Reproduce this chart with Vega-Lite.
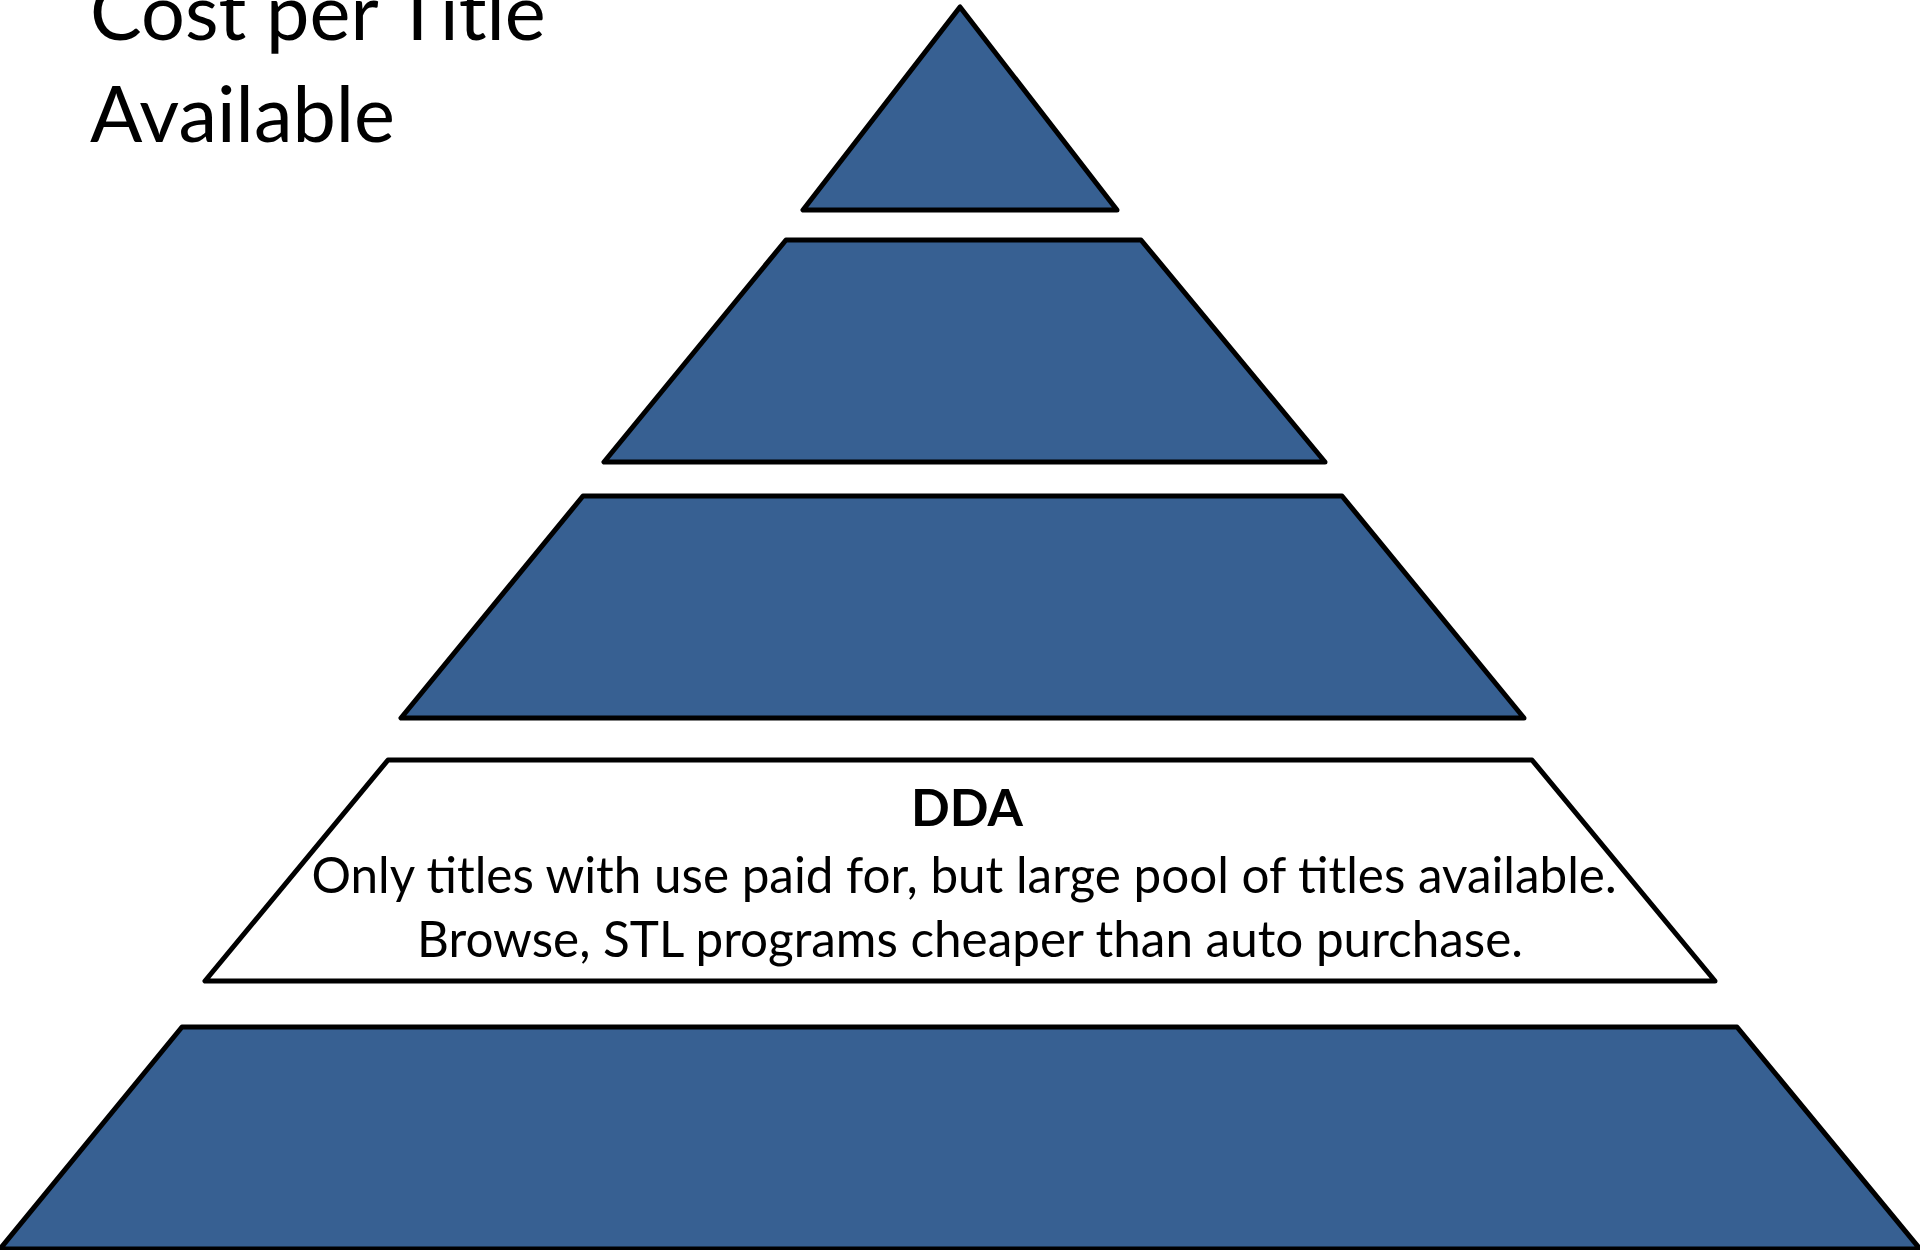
{
  "$schema": "https://vega.github.io/schema/vega-lite/v6.json",
  "autosize": {"type": "none"},
  "width": 1920,
  "height": 1250,
  "padding": 0,
  "background": "white",
  "config": {"view": {"stroke": null}},
  "layer": [
    {
      "data": {"values": [
        {"tier": 1, "kind": "other", "y": 7, "xl": 960, "xr": 960},
        {"tier": 1, "kind": "other", "y": 210, "xl": 803, "xr": 1117},
        {"tier": 2, "kind": "other", "y": 240, "xl": 786, "xr": 1141},
        {"tier": 2, "kind": "other", "y": 462, "xl": 604, "xr": 1325},
        {"tier": 3, "kind": "other", "y": 496, "xl": 583, "xr": 1342},
        {"tier": 3, "kind": "other", "y": 718, "xl": 401, "xr": 1524},
        {"tier": 4, "kind": "DDA", "y": 760, "xl": 388, "xr": 1532},
        {"tier": 4, "kind": "DDA", "y": 981, "xl": 205, "xr": 1715},
        {"tier": 5, "kind": "other", "y": 1027, "xl": 182, "xr": 1737},
        {"tier": 5, "kind": "other", "y": 1249, "xl": 0, "xr": 1920}
      ]},
      "mark": {"type": "area", "orient": "horizontal", "stroke": "black", "strokeWidth": 5, "strokeJoin": "round", "fillOpacity": 1, "clip": false},
      "encoding": {
        "y": {"field": "y", "type": "quantitative", "scale": {"domain": [0, 1250], "reverse": true, "zero": false, "nice": false}, "axis": null},
        "x": {"field": "xl", "type": "quantitative", "scale": {"domain": [0, 1920], "zero": false, "nice": false}, "axis": null},
        "x2": {"field": "xr"},
        "detail": {"field": "tier", "type": "nominal"},
        "fill": {"field": "kind", "type": "nominal", "scale": {"domain": ["other", "DDA"], "range": ["#376092", "#FFFFFF"]}, "legend": null}
      }
    },
    {
      "data": {"values": [
        {"label": "Cost per Title", "x": 90, "y": 40},
        {"label": "Available", "x": 90, "y": 142}
      ]},
      "mark": {"type": "text", "align": "left", "baseline": "alphabetic", "font": "Lato", "fontSize": 77.5, "color": "black"},
      "encoding": {
        "x": {"field": "x", "type": "quantitative"},
        "y": {"field": "y", "type": "quantitative"},
        "text": {"field": "label"}
      }
    },
    {
      "data": {"values": [
        {"label": "DDA", "x": 967, "y": 826}
      ]},
      "mark": {"type": "text", "align": "center", "baseline": "alphabetic", "font": "Lato", "fontWeight": "bold", "fontSize": 51, "color": "black"},
      "encoding": {
        "x": {"field": "x", "type": "quantitative"},
        "y": {"field": "y", "type": "quantitative"},
        "text": {"field": "label"}
      }
    },
    {
      "data": {"values": [
        {"label": "Only titles with use paid for, but large pool of titles available.", "x": 964, "y": 893},
        {"label": "Browse, STL programs cheaper than auto purchase.", "x": 970, "y": 957}
      ]},
      "mark": {"type": "text", "align": "center", "baseline": "alphabetic", "font": "Lato", "fontSize": 49.4, "color": "black"},
      "encoding": {
        "x": {"field": "x", "type": "quantitative"},
        "y": {"field": "y", "type": "quantitative"},
        "text": {"field": "label"}
      }
    }
  ]
}
